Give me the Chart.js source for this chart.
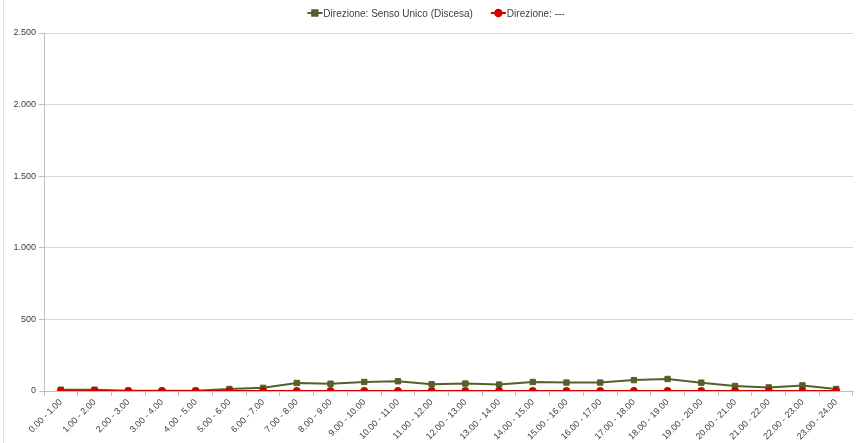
<!DOCTYPE html>
<html>
<head>
<meta charset="utf-8">
<script src="https://cdn.jsdelivr.net/npm/chart.js@4/dist/chart.umd.min.js"></script>
<style>
  html, body { margin: 0; padding: 0; background: #ffffff; }
  #wrap { width: 858px; height: 443px; position: relative; }
</style>
</head>
<body>
<div id="wrap"><canvas id="trafficChart" width="858" height="443"></canvas></div>
<script>
const hourLabels = [
    '0.00 - 1.00', '1.00 - 2.00', '2.00 - 3.00', '3.00 - 4.00', '4.00 - 5.00', '5.00 - 6.00',
    '6.00 - 7.00', '7.00 - 8.00', '8.00 - 9.00', '9.00 - 10.00', '10.00 - 11.00', '11.00 - 12.00',
    '12.00 - 13.00', '13.00 - 14.00', '14.00 - 15.00', '15.00 - 16.00', '16.00 - 17.00', '17.00 - 18.00',
    '18.00 - 19.00', '19.00 - 20.00', '20.00 - 21.00', '21.00 - 22.00', '22.00 - 23.00', '23.00 - 24.00'
];
const sensoUnico = [9, 9, 1, 1, 1, 14, 22, 56, 51, 63, 68, 47, 52, 45, 63, 59, 59, 76, 84, 58, 35, 25, 39, 14];
const direzioneVuota = [0, 0, 0, 0, 0, 0, 0, 0, 0, 0, 0, 0, 0, 0, 0, 0, 0, 0, 0, 0, 0, 0, 0, 0];
const yTicks = [0, 500, 1000, 1500, 2000, 2500];

const legendNames = ['Direzione: Senso Unico (Discesa)', 'Direzione: ---'];
const FONT = "'Liberation Sans Narrow', 'Arial Narrow', 'Liberation Sans', sans-serif";
const GREEN = '#4f6228';
const RED = '#d40000';

// Excel-style legend: short line with marker, then text
const lineLegend = {
    id: 'lineLegend',
    afterDraw(chart) {
        const ctx = chart.ctx;
        const items = [
            { text: legendNames[0], color: GREEN, style: 'rect', r: 3.8 },
            { text: legendNames[1], color: RED, style: 'circle', r: 3.2 }
        ];
        ctx.save();
        ctx.font = '10px ' + FONT;
        const lineW = 15, gapText = 1, gapItem = 18;
        let total = 0;
        items.forEach((it, i) => {
            it.w = ctx.measureText(it.text).width;
            total += lineW + gapText + it.w + (i ? gapItem : 0);
        });
        let x = 436 - total / 2;
        const y = 13;
        items.forEach((it, i) => {
            if (i) x += gapItem;
            ctx.strokeStyle = it.color;
            ctx.lineWidth = 2;
            ctx.beginPath();
            ctx.moveTo(x, y);
            ctx.lineTo(x + lineW, y);
            ctx.stroke();
            Chart.helpers.drawPoint(ctx, { pointStyle: it.style, radius: it.r, borderWidth: 1 }, x + lineW / 2, y);
            ctx.fillStyle = it.color;
            ctx.fill();
            ctx.fillStyle = '#404040';
            ctx.textBaseline = 'middle';
            ctx.fillText(it.text, x + lineW + gapText, y + 1);
            x += lineW + gapText + it.w;
        });
        // faint outer border on the left
        ctx.strokeStyle = '#e3e3e3';
        ctx.lineWidth = 1;
        ctx.beginPath();
        ctx.moveTo(3.5, 0);
        ctx.lineTo(3.5, 443);
        ctx.stroke();
        ctx.restore();
    }
};

new Chart(document.getElementById('trafficChart').getContext('2d'), {
    type: 'line',
    data: {
        labels: hourLabels,
        datasets: [{
            label: legendNames[1],
            data: direzioneVuota,
            borderColor: RED,
            backgroundColor: RED,
            borderWidth: 2,
            pointStyle: 'circle',
            pointRadius: 3.6,
            pointBorderWidth: 1,
            tension: 0
        }, {
            label: legendNames[0],
            data: sensoUnico,
            borderColor: GREEN,
            backgroundColor: GREEN,
            borderWidth: 2,
            pointStyle: 'rect',
            pointRadius: 3.8,
            pointBorderWidth: 1,
            tension: 0
        }]
    },
    options: {
        responsive: false,
        animation: false,
        layout: {
            padding: { top: 33, right: 0, left: 0, bottom: 0 }
        },
        plugins: {
            legend: { display: false },
            tooltip: { enabled: false }
        },
        scales: {
            x: {
                offset: true,
                grid: {
                    offset: true,
                    drawOnChartArea: false,
                    drawTicks: true,
                    tickLength: 5,
                    color: '#bfbfbf'
                },
                border: { color: '#bfbfbf' },
                ticks: {
                    minRotation: 45,
                    maxRotation: 45,
                    autoSkip: false,
                    padding: 1,
                    color: '#404040',
                    font: { family: FONT, size: 9 }
                },
                afterFit(scale) {
                    scale.height = 52;
                }
            },
            y: {
                min: 0,
                max: 2500,
                afterBuildTicks(scale) {
                    scale.ticks = yTicks.map(v => ({ value: v }));
                },
                grid: {
                    color: '#d9d9d9',
                    tickLength: 5,
                    tickColor: '#bfbfbf'
                },
                border: { color: '#bfbfbf' },
                ticks: {
                    padding: 3,
                    color: '#404040',
                    font: { family: FONT, size: 9 },
                    callback: v => v.toLocaleString('de-DE')
                },
                afterFit(scale) {
                    scale.width = 44;
                }
            }
        }
    },
    plugins: [lineLegend]
});
</script>
</body>
</html>
